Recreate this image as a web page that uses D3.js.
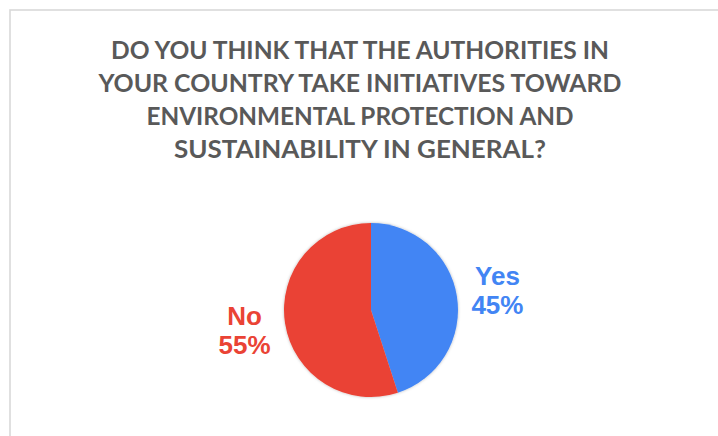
<!DOCTYPE html>
<html>
<head>
<meta charset="utf-8">
<script src="https://cdn.jsdelivr.net/npm/d3@7"></script>
<style>
  html, body { margin: 0; padding: 0; background: #ffffff; }
  svg { display: block; }
</style>
</head>
<body>
<script>
// Survey answers and their shares
const categories = ["Yes", "No"];
const shares = [45, 55];
const sliceColors = ["#4285F4", "#EA4335"];

const titleLines = [
  "DO YOU THINK THAT THE AUTHORITIES IN",
  "YOUR COUNTRY TAKE INITIATIVES TOWARD",
  "ENVIRONMENTAL PROTECTION AND",
  "SUSTAINABILITY IN GENERAL?"
];
const titleWidths = [498, 523, 427, 372];

const width = 718, height = 436;
const cx = 371, cy = 310, radius = 87;

const svg = d3.select("body").append("svg")
  .attr("width", width)
  .attr("height", height);

const defs = svg.append("defs");
const shadow = defs.append("filter")
  .attr("id", "pieShadow")
  .attr("x", "-20%").attr("y", "-20%")
  .attr("width", "140%").attr("height", "140%");
shadow.append("feDropShadow")
  .attr("dx", 0).attr("dy", 0)
  .attr("stdDeviation", 1.6)
  .attr("flood-color", "#000")
  .attr("flood-opacity", 0.28);

// Chart frame (left and top edges visible)
svg.append("rect")
  .attr("x", 10).attr("y", 10)
  .attr("width", width + 20).attr("height", height + 20)
  .attr("fill", "#ffffff")
  .attr("stroke", "#d9d9d9")
  .attr("stroke-width", 1.6);

// Title
svg.append("g")
  .selectAll("text")
  .data(titleLines)
  .join("text")
  .attr("x", 360)
  .attr("y", (d, i) => 59 + i * 33)
  .attr("text-anchor", "middle")
  .attr("font-family", "Lato, 'Open Sans', sans-serif")
  .attr("font-weight", 700)
  .attr("font-size", 25)
  .attr("fill", "#595959")
  .attr("textLength", (d, i) => titleWidths[i])
  .attr("lengthAdjust", "spacingAndGlyphs")
  .text(d => d);

// Pie
const pie = d3.pie().sort(null).value(d => d);
const arcs = pie(shares);
const arc = d3.arc().innerRadius(0).outerRadius(radius);
const labelArc = d3.arc().innerRadius(128).outerRadius(128);

const g = svg.append("g").attr("transform", `translate(${cx},${cy})`);

g.append("g")
  .attr("filter", "url(#pieShadow)")
  .selectAll("path")
  .data(arcs)
  .join("path")
  .attr("d", arc)
  .attr("fill", (d, i) => sliceColors[i]);

// Category labels with percentages
const labels = g.selectAll("text.lbl")
  .data(arcs)
  .join("text")
  .attr("class", "lbl")
  .attr("transform", d => `translate(${labelArc.centroid(d)})`)
  .attr("text-anchor", "middle")
  .attr("font-family", "'Liberation Sans', Arial, sans-serif")
  .attr("font-weight", 700)
  .attr("font-size", 26)
  .attr("fill", (d, i) => sliceColors[i]);

labels.append("tspan")
  .attr("x", 0).attr("y", -5)
  .text((d, i) => categories[i]);
labels.append("tspan")
  .attr("x", 0).attr("y", 24)
  .text(d => d.data + "%");
</script>
</body>
</html>
